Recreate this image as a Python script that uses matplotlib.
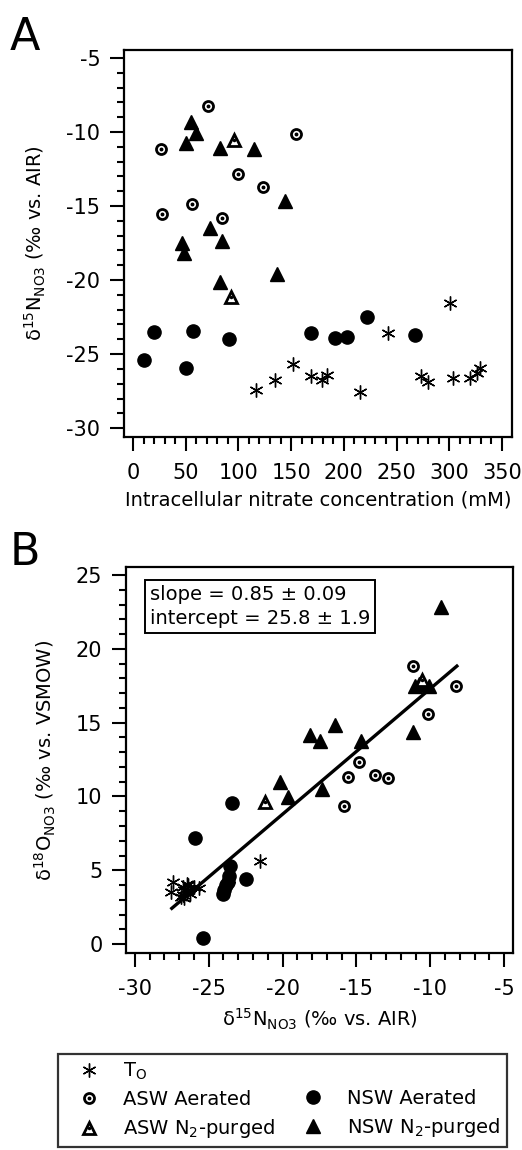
import matplotlib
matplotlib.use('Agg')
import matplotlib.pyplot as plt
import numpy as np
from matplotlib.lines import Line2D

plt.rcParams['font.family'] = ['DejaVu Sans']
plt.rcParams['mathtext.fontset'] = 'dejavusans'
plt.rcParams['axes.unicode_minus'] = False

# panel A: intracellular nitrate (mM) vs d15N ; panel B: d15N vs d18O
t0_conc = [116.7, 134.7, 151.9, 168.6, 178.9, 184.3, 215.4, 241.6, 272.9, 279.6, 300.8, 303.9, 319.7, 326.7, 329.2]
t0_d15n = [-27.43, -26.76, -25.68, -26.49, -26.76, -26.42, -27.55, -23.60, -26.49, -26.91, -21.53, -26.64, -26.64, -26.26, -25.97]
t0_d18o = [4.2, 3.9, 3.8, 4.1, 3.3, 4.0, 3.5, 4.4, 3.6, 3.2, 5.6, 3.1, 3.7, 3.4, 3.9]

asw_aer_conc = [26.3, 27.2, 55.7, 71.2, 84.7, 99.3, 123.0, 154.3]
asw_aer_d15n = [-11.17, -15.56, -14.84, -8.24, -15.83, -12.84, -13.74, -10.16]
asw_aer_d18o = [18.86, 11.29, 12.35, 17.46, 9.35, 11.27, 11.45, 15.56]

asw_n2_conc = [96.1, 93.2]
asw_n2_d15n = [-10.54, -21.17]
asw_n2_d18o = [17.89, 9.60]

nsw_aer_conc = [10.4, 20.2, 50.0, 57.2, 91.4, 168.6, 191.7, 203.3, 222.3, 267.6]
nsw_aer_d15n = [-25.41, -23.53, -25.93, -23.45, -24.01, -23.60, -23.94, -23.83, -22.48, -23.72]
nsw_aer_d18o = [0.39, 5.28, 7.16, 9.53, 3.40, 4.60, 3.70, 4.00, 4.38, 4.22]

nsw_n2_conc = [54.7, 59.5, 50.3, 82.5, 115.1, 144.2, 73.1, 84.7, 46.8, 48.7, 82.5, 136.3]
nsw_n2_d15n = [-9.30, -10.09, -10.77, -11.06, -11.17, -14.66, -16.47, -17.34, -17.48, -18.16, -20.16, -19.62]
nsw_n2_d18o = [22.85, 17.50, 17.60, 17.50, 14.34, 13.77, 14.84, 10.48, 13.77, 14.16, 11.00, 9.94]

slope = 0.85
intercept = 25.8
fit_x = [-27.5, -8.2]

star = (6, 2, 0)
FS = 14


def draw_series(ax, xs):
    t0, aa, an, na, nn = xs
    ax.plot(t0[0], t0[1], linestyle='none', marker=star, ms=10, mew=1.0, color='black')
    ax.plot(na[0], na[1], linestyle='none', marker='o', ms=9.5, color='black')
    ax.plot(nn[0], nn[1], linestyle='none', marker='^', ms=10, color='black')
    ax.plot(aa[0], aa[1], linestyle='none', marker='o', ms=7.2, mfc='white', mec='black', mew=2)
    ax.plot(aa[0], aa[1], linestyle='none', marker='o', ms=1.8, color='black')
    ax.plot(an[0], an[1], linestyle='none', marker='^', ms=8, mfc='white', mec='black', mew=2)
    ax.plot(an[0], an[1], linestyle='none', marker='o', ms=1.5, color='black')


def style_axes(ax):
    for s in ax.spines.values():
        s.set_linewidth(1.6)
    ax.tick_params(which='major', direction='out', length=10, width=1.5, labelsize=15, top=False, right=False)
    ax.tick_params(which='minor', direction='out', length=5, width=1.5, top=False, right=False)
    ax.tick_params(axis='y', which='major', pad=7)
    ax.tick_params(axis='x', which='major', pad=9)


fig = plt.figure(figsize=(5.22, 11.5), dpi=100)

axA = fig.add_axes([124/522, 1-437/1150, 388/522, 387/1150])
draw_series(axA, [(t0_conc, t0_d15n), (asw_aer_conc, asw_aer_d15n), (asw_n2_conc, asw_n2_d15n),
                  (nsw_aer_conc, nsw_aer_d15n), (nsw_n2_conc, nsw_n2_d15n)])
axA.set_xlim(-8.5, 359.5)
axA.set_ylim(-30.6, -4.46)
axA.set_xticks(np.arange(0, 351, 50))
axA.set_xticks(np.arange(0, 351, 10), minor=True)
axA.set_yticks(np.arange(-30, -4, 5))
axA.set_yticks(np.arange(-30, -4, 1), minor=True)
style_axes(axA)
axA.set_xlabel('Intracellular nitrate concentration (mM)', fontsize=FS, labelpad=5)
axA.set_ylabel('δ$^{15}$N$_{\\mathrm{NO3}}$ (‰ vs. AIR)', fontsize=FS, labelpad=13)
fig.text(10/522, 1-50/1150, 'A', fontsize=32, va='baseline')

axB = fig.add_axes([126/522, 1-953/1150, 387/522, 386/1150])
draw_series(axB, [(t0_d15n, t0_d18o), (asw_aer_d15n, asw_aer_d18o), (asw_n2_d15n, asw_n2_d18o),
                  (nsw_aer_d15n, nsw_aer_d18o), (nsw_n2_d15n, nsw_n2_d18o)])
fx = np.array(fit_x)
axB.plot(fx, slope * fx + intercept, color='black', lw=2.4)
axB.set_xlim(-30.6, -4.4)
axB.set_ylim(-0.6, 25.54)
axB.set_xticks(np.arange(-30, -4, 5))
axB.set_xticks(np.arange(-30, -4, 1), minor=True)
axB.set_yticks(np.arange(0, 26, 5))
axB.set_yticks(np.arange(0, 26, 1), minor=True)
style_axes(axB)
axB.set_xlabel('δ$^{15}$N$_{\\mathrm{NO3}}$ (‰ vs. AIR)', fontsize=FS, labelpad=5)
axB.set_ylabel('δ$^{18}$O$_{\\mathrm{NO3}}$ (‰ vs. VSMOW)', fontsize=FS, labelpad=13)
axB.text(0.062, 0.953, 'slope = 0.85 ± 0.09\nintercept = 25.8 ± 1.9', transform=axB.transAxes,
         fontsize=FS, va='top', ha='left', linespacing=1.35,
         bbox=dict(boxstyle='square,pad=0.25', fc='white', ec='black', lw=1.4))
fig.text(10/522, 1-565/1150, 'B', fontsize=32, va='baseline')

# legend
h_t0 = Line2D([], [], linestyle='none', marker=star, ms=10, mew=1.0, color='black')
h_aa = (Line2D([], [], linestyle='none', marker='o', ms=7.2, mfc='white', mec='black', mew=2),
        Line2D([], [], linestyle='none', marker='o', ms=1.8, color='black'))
h_an = (Line2D([], [], linestyle='none', marker='^', ms=8, mfc='white', mec='black', mew=2),
        Line2D([], [], linestyle='none', marker='o', ms=1.5, color='black'))
h_na = Line2D([], [], linestyle='none', marker='o', ms=9.5, color='black')
h_nn = Line2D([], [], linestyle='none', marker='^', ms=10, color='black')
h_blank = Line2D([], [], linestyle='none')

leg = fig.legend([h_t0, h_aa, h_an, h_blank, h_na, h_nn],
                 ['T$_\\mathrm{O}$', 'ASW Aerated', 'ASW N$_2$-purged', '', 'NSW Aerated', 'NSW N$_2$-purged'],
                 ncol=2, loc='upper left', bbox_to_anchor=(58/522, 1-1054/1150),
                 fontsize=FS, frameon=True, fancybox=False, edgecolor='black',
                 borderaxespad=0, handlelength=2.49, handletextpad=0.5, columnspacing=0.7,
                 labelspacing=0.42, borderpad=0.35)
leg.get_frame().set_linewidth(1.6)

fig.savefig('out.png', dpi=100)
